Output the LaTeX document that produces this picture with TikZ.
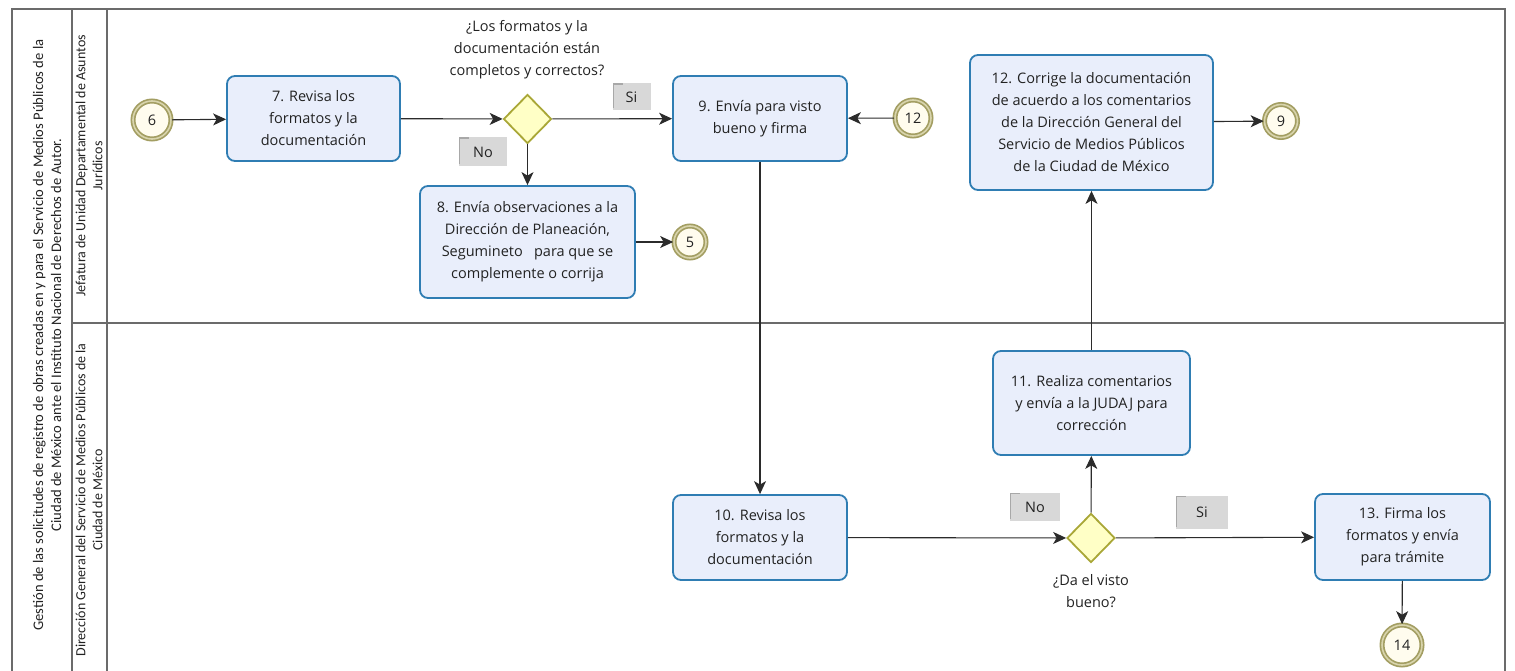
\documentclass[tikz,border=0pt]{standalone}
\usepackage{fontspec}
\setmainfont{Open Sans}
\newfontfamily\lanefont{Carlito}
\usetikzlibrary{shapes.geometric,arrows.meta,calc}

\definecolor{taskfill}{HTML}{E9EEFB}
\definecolor{taskdraw}{HTML}{2F7DB3}
\definecolor{gwfill}{HTML}{FFFFC6}
\definecolor{gwdraw}{HTML}{A9A737}
\definecolor{evfill}{HTML}{FFFCEE}
\definecolor{evdraw}{HTML}{A39E62}
\definecolor{evmid}{HTML}{D8D4AC}
\definecolor{flow}{HTML}{2B2B2B}
\definecolor{poolline}{HTML}{6B6B6B}
\definecolor{txt}{HTML}{222222}
\definecolor{lblfill}{HTML}{D8D8D8}
\definecolor{lbledge}{HTML}{A8A8A8}

\tikzset{
  task/.style={draw=taskdraw, fill=taskfill, line width=1.8pt, rounded corners=8pt,
    align=center, text=txt, inner sep=2pt, font=\fontsize{14.5}{22}\selectfont},
  gateway/.style={diamond, draw=gwdraw, fill=gwfill, line width=1.8pt,
    minimum width=48pt, minimum height=49pt, inner sep=0pt},
  event/.style={circle, draw=evdraw, double=evmid, line width=1.7pt, double distance=1.6pt,
    fill=evfill, inner sep=0pt, text=txt, font=\fontsize{14.5}{18}\selectfont},
  flowline/.style={draw=flow, line width=1.1pt, -{Stealth[length=13pt,width=12pt,inset=3.5pt]}},
  lbl/.style={fill=lblfill, text=txt, inner sep=0pt, font=\fontsize{14.5}{18}\selectfont,
    path picture={\draw[lbledge, line width=1.4pt]
      ($(path picture bounding box.south west)+(0.7pt,2pt)$) |-
      ($(path picture bounding box.north west)+(10pt,-0.7pt)$);}},
  question/.style={align=center, text=txt, font=\fontsize{14.5}{22}\selectfont},
  lanetext/.style={rotate=90, align=center, text=txt, font=\lanefont\fontsize{14}{17}\selectfont},
}

\begin{document}
\begin{tikzpicture}[x=1pt, y=-1pt]
\useasboundingbox (0,0) rectangle (1515,671);
\clip (0,0) rectangle (1515,671);

% pool and lanes
\draw[poolline, line width=2.4pt] (12,9) rectangle (1505,700);
\draw[poolline, line width=1.6pt] (72,9) -- (72,700);
\draw[poolline, line width=1.6pt] (107,9) -- (107,700);
\draw[poolline, line width=1.6pt] (72,323) -- (1505,323);

\node[lanetext, font=\lanefont\fontsize{14.6}{18}\selectfont] (poollbl) at (47,335) {Gestión de las solicitudes de registro de obras creadas en y para el Servicio de Medios Públicos de la\\Ciudad de México ante el Instituto Nacional de Derechos de Autor.};
\node[lanetext] (lane1) at (89,166) {Jefatura de Unidad Departamental de Asuntos\\Jurídicos};
\node[lanetext] (lane2) at (89,500) {Dirección General del Servicio de Medios Públicos de la\\Ciudad de México};

% events
\node[event, minimum size=38pt] (e6) at (152,120) {6};
\node[event, minimum size=36pt] (e12) at (913,118) {12};
\node[event, minimum size=32pt] (e5) at (690,242) {5};
\node[event, minimum size=33pt] (e9) at (1281,121) {9};
\node[event, minimum size=40pt] (e14) at (1402,645) {14};

% tasks
\node[task, minimum width=173pt, minimum height=85pt] (t7) at (313.5,118.5) {7. Revisa los\\formatos y la\\documentación};
\node[task, minimum width=174pt, minimum height=85pt] (t9) at (760,118.5) {9. Envía para visto\\bueno y firma};
\node[task, minimum width=215pt, minimum height=112pt] (t8) at (527.5,242) {8. Envía observaciones a la\\Dirección de Planeación,\\Segumineto\ \ \ para que se\\complemente o corrija};
\node[task, minimum width=243pt, minimum height=135pt] (t12) at (1091.5,122.5) {12. Corrige la documentación\\de acuerdo a los comentarios\\de la Dirección General del\\Servicio de Medios Públicos\\de la Ciudad de México};
\node[task, minimum width=197pt, minimum height=104pt] (t11) at (1091.5,403) {11. Realiza comentarios\\y envía a la JUDAJ para\\corrección};
\node[task, minimum width=174pt, minimum height=85pt] (t10) at (760,537.5) {10. Revisa los\\formatos y la\\documentación};
\node[task, minimum width=175pt, minimum height=86pt] (t13) at (1402.5,537) {13. Firma los\\formatos y envía\\para trámite};

% gateways
\node[gateway] (g1) at (527.5,119) {};
\node[gateway] (g2) at (1091,538) {};
\node[question] (q1) at (527,50) {¿Los formatos y la\\documentación están\\completos y correctos?};
\node[question] (q2) at (1091,591) {¿Da el visto\\bueno?};

% flow labels
\node[lbl, minimum width=38pt, minimum height=27pt] (si1) at (631.5,97) {Si};
\node[lbl, minimum width=48pt, minimum height=29pt] (no1) at (483,152) {No};
\node[lbl, minimum width=50pt, minimum height=28pt] (no2) at (1035,507) {No};
\node[lbl, minimum width=52pt, minimum height=33pt] (si2) at (1202,512) {Si};

% sequence flows
\draw[flowline] (e6) -- (t7);
\draw[flowline] (t7) -- (g1);
\draw[flowline] (g1) -- (t9);
\draw[flowline] (g1) -- (t8);
\draw[flowline] (t8) -- (e5);
\draw[flowline] (e12) -- (t9);
\draw[flowline] (t9) -- (t10);
\draw[flowline] (t10) -- (g2);
\draw[flowline] (g2) -- (t11);
\draw[flowline] (t11) -- (t12);
\draw[flowline] (t12) -- (e9);
\draw[flowline] (g2) -- (t13);
\draw[flowline] (t13) -- (e14);
\end{tikzpicture}
\end{document}
